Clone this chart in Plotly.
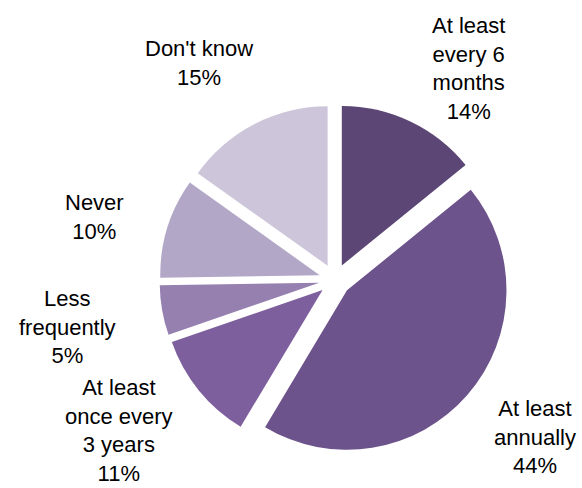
import plotly.graph_objects as go

# Survey responses: how often the check is carried out
categories = [
    "At least<br>every 6<br>months",
    "At least<br>annually",
    "At least<br>once every<br>3 years",
    "Less<br>frequently",
    "Never",
    "Don't know",
]
shares = [14, 44, 11, 5, 10, 15]

colors = ["#5C4675", "#6D538B", "#7E5F9D", "#9580B0", "#B2A7C7", "#CDC6DA"]

# Label anchor points (paper coordinates) for the outside labels
label_pos = [
    (0.805, 0.978),
    (0.92, 0.192),
    (0.205, 0.235),
    (0.116, 0.418),
    (0.163, 0.615),
    (0.342, 0.93),
]

fig = go.Figure(
    go.Pie(
        labels=categories,
        values=shares,
        sort=False,
        direction="clockwise",
        rotation=0,
        pull=[0.1] * len(shares),
        marker=dict(colors=colors, line=dict(width=0)),
        textinfo="none",
        hoverinfo="label+percent",
        domain=dict(x=[0.274, 0.877], y=[0.067, 0.786]),
        showlegend=False,
    )
)

for cat, val, (x, y) in zip(categories, shares, label_pos):
    fig.add_annotation(
        x=x, y=y, xref="paper", yref="paper",
        text=f"{cat}<br>{val}%",
        showarrow=False,
        xanchor="center", yanchor="top",
        align="center",
        font=dict(family="Liberation Sans, Arial, sans-serif", size=22, color="#000000"),
    )

fig.update_layout(
    width=582,
    height=488,
    margin=dict(l=0, r=0, t=0, b=0),
    paper_bgcolor="white",
    plot_bgcolor="white",
)

fig.write_html("out.html")
